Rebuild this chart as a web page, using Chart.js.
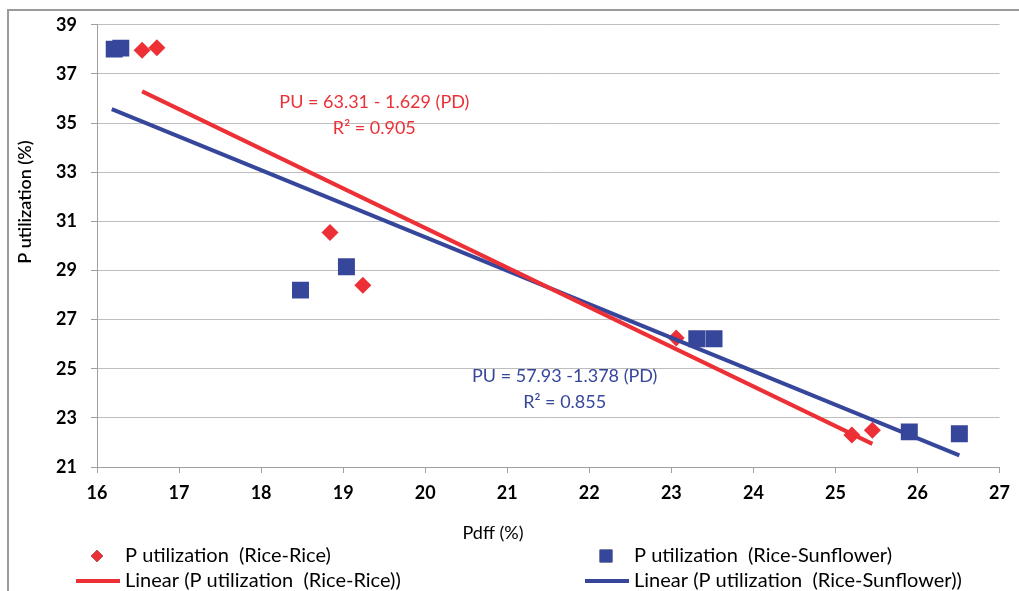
<!DOCTYPE html>
<html>
<head>
<meta charset="utf-8">
<script src="https://cdn.jsdelivr.net/npm/chart.js@4/dist/chart.umd.min.js"></script>
<style>
  html, body { margin: 0; padding: 0; background: #fff; }
  #wrap { width: 1019px; height: 591px; position: relative; }
</style>
</head>
<body>
<div id="wrap"><canvas id="chart"></canvas></div>
<script>
// P utilization vs Pdff
const riceRiceX = [16.55, 16.73, 18.84, 19.24, 23.06, 25.2, 25.45];
const riceRiceY = [37.96, 38.07, 30.55, 28.4, 26.25, 22.3, 22.5];
const riceSunX = [16.21, 16.29, 18.48, 19.04, 23.31, 23.52, 25.9, 26.51];
const riceSunY = [38.01, 38.05, 28.2, 29.15, 26.22, 26.22, 22.43, 22.35];

// trendline end points
const riceRiceFitX = [16.55, 25.45];
const riceRiceFitY = [36.29, 21.94];
const riceSunFitX = [16.18, 26.51];
const riceSunFitY = [35.57, 21.47];

const xTicks = [16, 17, 18, 19, 20, 21, 22, 23, 24, 25, 26, 27];
const yTicks = [21, 23, 25, 27, 29, 31, 33, 35, 37, 39];

const xTitle = 'Pdff (%)';
const yTitle = 'P utilization (%)';

const RED = '#ec3036';
const BLUE = '#36469b';
const FONT = 'Lato, "Open Sans", sans-serif';

function toPoints(xs, ys) {
    return xs.map((x, i) => ({ x: x, y: ys[i] }));
}

// equations, anchored in data units
const fitLabels = [
    { color: RED, x: 19.38, y: 35.85, lines: ['PU = 63.31 - 1.629 (PD)', 'R\u00b2 = 0.905'] },
    { color: BLUE, x: 21.7, y: 24.7, lines: ['PU = 57.93 -1.378 (PD)', 'R\u00b2 = 0.855'] }
];

const extras = {
    id: 'extras',
    beforeDraw(chart) {
        const ctx = chart.ctx;
        ctx.save();
        ctx.fillStyle = '#fff';
        ctx.fillRect(0, 0, chart.width, chart.height);
        // outer frame (top + left visible)
        ctx.strokeStyle = '#9a9a9a';
        ctx.lineWidth = 2;
        ctx.beginPath();
        ctx.moveTo(8, chart.height);
        ctx.lineTo(8, 10);
        ctx.lineTo(chart.width, 10);
        ctx.stroke();
        ctx.restore();
    },
    afterDatasetsDraw(chart) {
        const ctx = chart.ctx;
        const xs = chart.scales.x, ys = chart.scales.y;
        ctx.save();
        ctx.font = '18px ' + FONT;
        ctx.textAlign = 'center';
        ctx.textBaseline = 'middle';
        fitLabels.forEach(lbl => {
            ctx.fillStyle = lbl.color;
            const px = xs.getPixelForValue(lbl.x);
            const py = ys.getPixelForValue(lbl.y);
            lbl.lines.forEach((t, i) => ctx.fillText(t, px, py + i * 26));
        });
        ctx.restore();
    },
    afterDraw(chart) {
        const ctx = chart.ctx;
        ctx.save();
        // axis titles (Excel places them off the plot centre)
        ctx.fillStyle = '#000';
        ctx.textAlign = 'center';
        ctx.textBaseline = 'middle';
        ctx.font = '18px ' + FONT;
        ctx.fillText(xTitle, 493, 533);
        ctx.save();
        ctx.translate(25, 202);
        ctx.rotate(-Math.PI / 2);
        ctx.font = '600 18px ' + FONT;
        ctx.fillText(yTitle, 0, 0);
        ctx.restore();

        // two-column legend
        const ds = chart.data.datasets;
        const cols = [97, 606];
        const rows = [556, 581];
        ctx.font = '20px ' + FONT;
        ctx.textAlign = 'left';
        ds.forEach((d, i) => {
            const cx = cols[i % 2];
            const cy = rows[Math.floor(i / 2)];
            if (d.showLine) {
                ctx.strokeStyle = d.borderColor;
                ctx.lineWidth = 4;
                ctx.beginPath();
                ctx.moveTo(cx - 21, cy);
                ctx.lineTo(cx + 23, cy);
                ctx.stroke();
            } else {
                Chart.helpers.drawPoint(ctx, {
                    pointStyle: d.pointStyle,
                    radius: d.pointStyle === 'rect' ? 9 : 6,
                    borderWidth: 0
                }, cx, cy);
                ctx.fillStyle = d.backgroundColor;
                ctx.fill();
            }
            ctx.fillStyle = '#000';
            ctx.fillText(d.label, cx + 28, cy);
        });
        ctx.restore();
    }
};

const ctx = document.getElementById('chart').getContext('2d');
new Chart(ctx, {
    type: 'scatter',
    data: {
        datasets: [
            {
                label: 'P utilization  (Rice-Rice)',
                data: toPoints(riceRiceX, riceRiceY),
                pointStyle: 'rectRot',
                pointRadius: 8.5,
                backgroundColor: RED,
                borderColor: RED,
                borderWidth: 0,
                order: 2
            },
            {
                label: 'P utilization  (Rice-Sunflower)',
                data: toPoints(riceSunX, riceSunY),
                pointStyle: 'rect',
                pointRadius: 12,
                backgroundColor: BLUE,
                borderColor: BLUE,
                borderWidth: 0,
                order: 3
            },
            {
                label: 'Linear (P utilization  (Rice-Rice))',
                data: toPoints(riceRiceFitX, riceRiceFitY),
                showLine: true,
                pointRadius: 0,
                borderColor: RED,
                borderWidth: 4,
                order: 0
            },
            {
                label: 'Linear (P utilization  (Rice-Sunflower))',
                data: toPoints(riceSunFitX, riceSunFitY),
                showLine: true,
                pointRadius: 0,
                borderColor: BLUE,
                borderWidth: 4,
                order: 1
            }
        ]
    },
    options: {
        responsive: true,
        maintainAspectRatio: false,
        animation: false,
        layout: { padding: { left: 0, top: 21, right: 16, bottom: 0 } },
        plugins: {
            legend: { display: false },
            tooltip: { enabled: false }
        },
        scales: {
            x: {
                type: 'linear',
                min: 16,
                max: 27,
                afterBuildTicks: s => { s.ticks = xTicks.map(v => ({ value: v })); },
                afterFit: s => { s.height = 124; },
                grid: {
                    drawOnChartArea: false,
                    drawTicks: true,
                    tickLength: 6,
                    color: '#a0a0a0'
                },
                border: { color: '#a0a0a0', width: 1 },
                ticks: {
                    padding: 9,
                    color: '#000',
                    font: { family: FONT, size: 18, weight: 'bold' }
                }
            },
            y: {
                type: 'linear',
                min: 21,
                max: 39,
                afterBuildTicks: s => { s.ticks = yTicks.map(v => ({ value: v })); },
                afterFit: s => { s.width = 97; },
                grid: {
                    color: '#bdbdbd',
                    tickLength: 6,
                    tickColor: '#a0a0a0'
                },
                border: { color: '#a0a0a0', width: 1 },
                ticks: {
                    padding: 14,
                    color: '#000',
                    font: { family: FONT, size: 18, weight: 'bold' }
                }
            }
        }
    },
    plugins: [extras]
});
</script>
</body>
</html>
